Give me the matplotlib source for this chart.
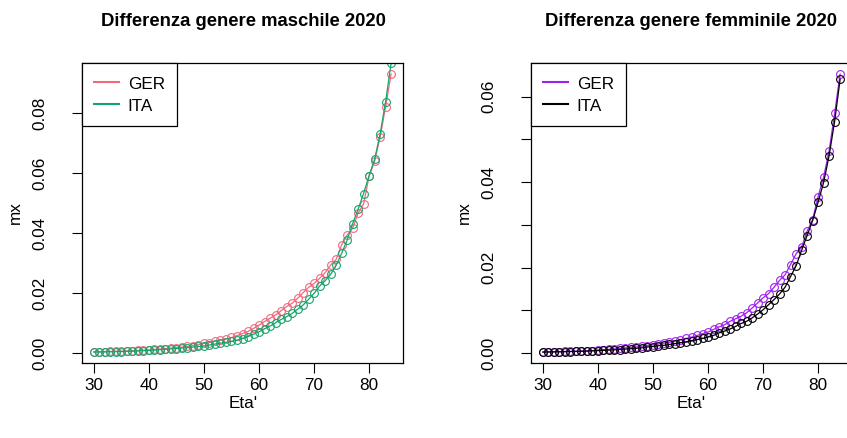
import numpy as np
import matplotlib
matplotlib.use("Agg")
import matplotlib.pyplot as plt
from matplotlib.lines import Line2D

plt.rcParams['font.family'] = ['Liberation Sans', 'DejaVu Sans']

ages = list(range(30, 85))

ger_m = [0.0005, 0.00055, 0.0006, 0.00064, 0.0007, 0.00075, 0.0008, 0.00088, 0.00097, 0.00106,
         0.00118, 0.0013, 0.00143, 0.00158, 0.00175, 0.0019, 0.0021, 0.0023, 0.0026, 0.0029,
         0.0033, 0.0036, 0.0040, 0.0044, 0.0048, 0.0053, 0.0059, 0.0066, 0.0073, 0.0083,
         0.0094, 0.0106, 0.0117, 0.0128, 0.0142, 0.0156, 0.0167, 0.0183, 0.0202, 0.0220,
         0.0233, 0.0250, 0.0269, 0.0294, 0.0313, 0.0361, 0.0394, 0.0417, 0.0467, 0.0498,
         0.0590, 0.0640, 0.0720, 0.0822, 0.0931]
ita_m = [0.00045, 0.00048, 0.0005, 0.00053, 0.00057, 0.0006, 0.00066, 0.00072, 0.0008, 0.0009,
         0.0010, 0.0011, 0.00122, 0.00135, 0.0015, 0.0016, 0.0018, 0.0019, 0.0021, 0.0023,
         0.0025, 0.0028, 0.0031, 0.0034, 0.0037, 0.0040, 0.0044, 0.0049, 0.0056, 0.0064,
         0.0072, 0.0082, 0.0091, 0.0102, 0.0113, 0.0122, 0.0133, 0.0147, 0.0161, 0.0180,
         0.0200, 0.0224, 0.0242, 0.0263, 0.0293, 0.0333, 0.0377, 0.0432, 0.0480, 0.0533,
         0.0593, 0.0647, 0.0731, 0.0839, 0.0967]
ger_f = [0.00025, 0.00027, 0.0003, 0.00032, 0.00035, 0.00038, 0.00042, 0.00046, 0.0005, 0.00055,
         0.0007, 0.00077, 0.00085, 0.00094, 0.00105, 0.0012, 0.0013, 0.0014, 0.0016, 0.0017,
         0.0019, 0.0021, 0.0023, 0.0025, 0.0028, 0.0031, 0.0034, 0.0037, 0.0041, 0.0045,
         0.0049, 0.0055, 0.0061, 0.0066, 0.0074, 0.0080, 0.0086, 0.0094, 0.0105, 0.0117,
         0.0129, 0.0139, 0.0154, 0.0170, 0.0183, 0.0207, 0.0232, 0.0248, 0.0285, 0.0312,
         0.0366, 0.0412, 0.0473, 0.0561, 0.0653]
ita_f = [0.0002, 0.00022, 0.00024, 0.00026, 0.00029, 0.00032, 0.00035, 0.00039, 0.00043, 0.00048,
         0.00055, 0.0006, 0.00066, 0.00073, 0.0008, 0.0009, 0.0010, 0.0011, 0.0012, 0.0014,
         0.0015, 0.0017, 0.0018, 0.0020, 0.0022, 0.0024, 0.0026, 0.0029, 0.0031, 0.0034,
         0.0037, 0.0041, 0.0047, 0.0051, 0.0056, 0.0062, 0.0069, 0.0074, 0.0082, 0.0091,
         0.0101, 0.0113, 0.0125, 0.0138, 0.0154, 0.0179, 0.0204, 0.0240, 0.0275, 0.0310,
         0.0353, 0.0399, 0.0462, 0.0542, 0.0641]

titles = ["Differenza genere maschile 2020", "Differenza genere femminile 2020"]
xticks = [30, 40, 50, 60, 70, 80]
yticks_m = [0.00, 0.02, 0.04, 0.06, 0.08]
yticks_f = [0.00, 0.01, 0.02, 0.03, 0.04, 0.05, 0.06]
ylabels_f = ["0.00", "", "0.02", "", "0.04", "", "0.06"]

W, H = 847, 438
fig = plt.figure(figsize=(W / 100, H / 100), dpi=100)

def px_axes(l, t, r, b):
    return fig.add_axes([l / W, 1 - b / H, (r - l) / W, (b - t) / H])

def r_range(vals):
    lo, hi = min(vals), max(vals)
    d = (hi - lo) * 0.04
    return lo - d, hi + d

FS = 12.3

panels = [
    (px_axes(82, 63, 403, 363), ger_m, ita_m, "#F2697E", "#13A56B", yticks_m,
     ["%.2f" % v for v in yticks_m], titles[0], 243, 82),
    (px_axes(531, 63, 852, 363), ger_f, ita_f, "#A020F0", "black", yticks_f,
     ylabels_f, titles[1], 691, 531),
]

for ax, ger, ita, cg, ci, yt, yl, title, cx, left in panels:
    ax.plot(ages, ger, color=cg, lw=0.9, marker='o', ms=5.6, mfc='none', mew=0.8)
    ax.plot(ages, ita, color=ci, lw=0.9, marker='o', ms=5.6, mfc='none', mew=0.8)
    ax.set_xlim(*r_range(ages))
    ax.set_ylim(*r_range(ger))
    ax.set_xticks(xticks)
    ax.set_xticklabels([str(v) for v in xticks])
    ax.set_yticks(yt)
    ax.set_yticklabels(yl, rotation=90, va='center')
    ax.tick_params(length=7, width=0.8, labelsize=FS, color='black')
    ax.tick_params(axis='x', pad=4)
    ax.tick_params(axis='y', pad=18)
    for s in ax.spines.values():
        s.set_linewidth(0.9)
        s.set_color('black')
    handles = [Line2D([], [], color=cg, lw=1.5), Line2D([], [], color=ci, lw=1.5)]
    leg = ax.legend(handles, ["GER", "ITA"], loc='upper left', borderaxespad=0,
                    fancybox=False, framealpha=1, edgecolor='black', fontsize=FS,
                    handlelength=1.5, handletextpad=0.5, borderpad=0.68,
                    labelspacing=0.28, handleheight=1.15)
    leg.get_frame().set_linewidth(0.9)
    fig.text(cx / W, 1 - 22 / H, title, ha='center', va='center', fontsize=13.3,
             fontweight='bold')
    fig.text(cx / W, 1 - 403 / H, "Eta'", ha='center', va='center', fontsize=FS)
    fig.text((left - 67) / W, 1 - 213 / H, "mx", ha='center', va='center',
             fontsize=FS, rotation=90)

fig.savefig("out.png", dpi=100)
